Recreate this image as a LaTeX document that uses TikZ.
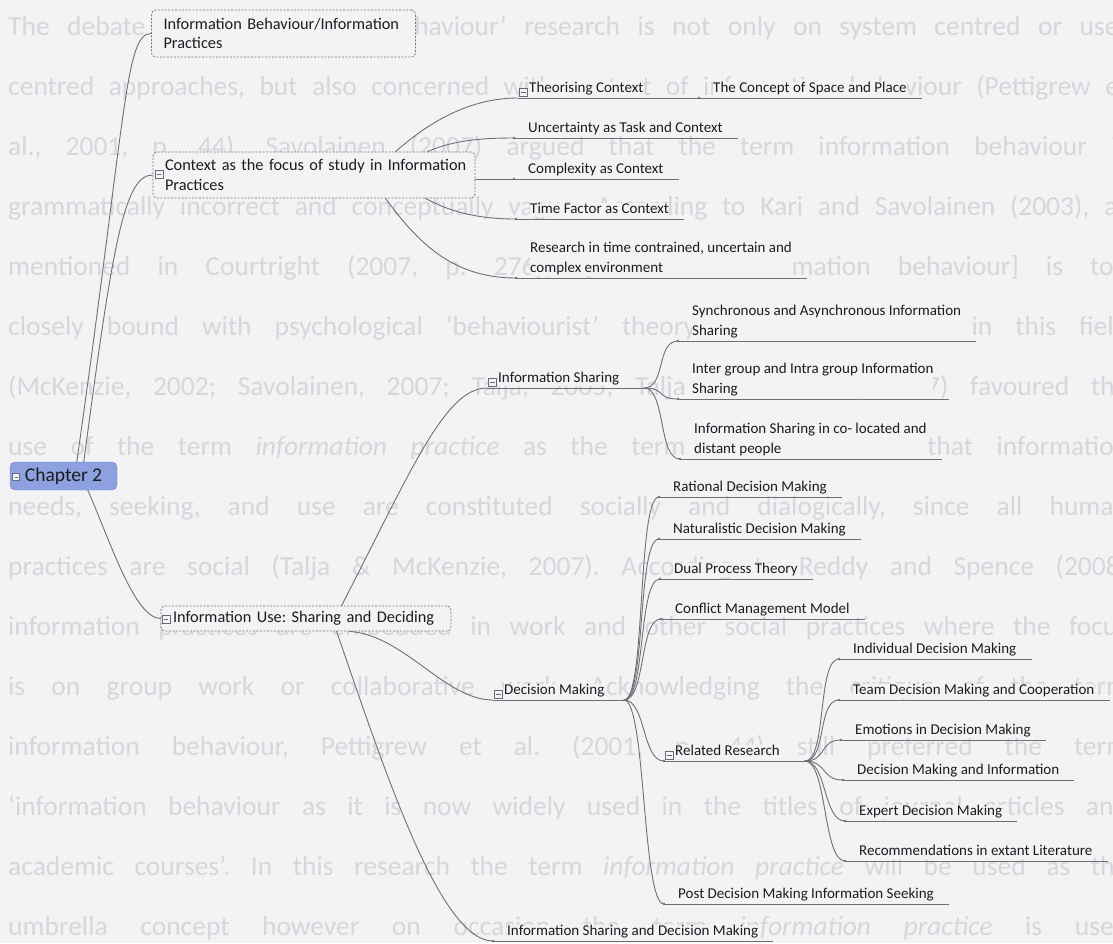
\documentclass[tikz,border=0pt]{standalone}
\usepackage{fontspec}
\setmainfont{Carlito}
\usetikzlibrary{calc}
\frenchspacing

\definecolor{pagebg}{RGB}{243,243,245}
\definecolor{ghostc}{RGB}{215,215,219}
\definecolor{inkc}{RGB}{28,28,32}
\definecolor{wirec}{RGB}{112,112,116}
\definecolor{framec}{RGB}{120,120,126}
\definecolor{rootfill}{RGB}{141,161,224}
\definecolor{rootedge}{RGB}{112,130,196}
\definecolor{iconc}{RGB}{105,105,115}

\newcommand\leaffont{\fontsize{15}{20}\selectfont}
\newcommand\boxfont{\fontsize{16.3}{19.5}\selectfont}
\newcommand\rootfont{\fontsize{19.5}{22}\selectfont}
\newcommand\ghostfont{\fontsize{27.5}{30}\selectfont}

\tikzset{
  ghost/.style={anchor=base west, inner sep=0pt, text=ghostc, font=\ghostfont},
  wire/.style={draw=wirec, line width=0.9pt, line cap=round},
  uline/.style={draw=wirec, line width=0.9pt},
  leaf/.style={anchor=south west, inner sep=0pt, fill=pagebg, text=inkc,
    font=\leaffont, align=left, text depth=3.5pt},
  topicbox/.style={draw=framec, dash pattern=on 2pt off 1.5pt, line width=0.8pt,
    rounded corners=4pt, fill=pagebg, text=inkc, font=\boxfont, align=left,
    inner xsep=12pt, inner ysep=0pt},
  rootbox/.style={draw=rootedge, fill=rootfill, rounded corners=5pt, text=inkc,
    font=\rootfont, minimum width=107pt, minimum height=28pt, inner sep=0pt},
  icon/.style={draw=iconc, fill=pagebg, line width=0.6pt, minimum size=8.5pt,
    inner sep=0pt,
    path picture={\draw[iconc, line width=0.7pt]
      ([xshift=2pt]path picture bounding box.west) --
      ([xshift=-2pt]path picture bounding box.east);}},
  knot/.style={fill=wirec},
}

% one justified line of the page text lying behind the map
\newcommand\ghostrow[3]{\node[ghost] (#1) at (8,#2) {\makebox[1120pt][s]{#3}};}

% leaf topic: label over an underline that starts at a small knot
\newcommand\leaf[3]{%
  \coordinate (#1-d) at (#2);
  \node[leaf] (#1) at ($(#1-d)+(14,-1.5)$) {#3};
  \draw[uline] (#1-d) -- ($(#1.south east)+(15,1.5)$);
  \fill[knot] (#1-d) circle[radius=1.3pt];
}

% topic with children: collapse icon, label, underline running on to the fork
\newcommand\branch[4]{%
  \coordinate (#1-d) at (#2);
  \coordinate (#1-f) at (#3);
  \node[leaf] (#1) at ($(#1-d)+(11,-1.5)$) {#4};
  \draw[uline] (#1-d) -- (#1-f);
  \node[icon] (#1-i) at ($(#1-d)+(5.5,-5.5)$) {};
}

% brace-like fan from a fork to a child's knot
\newcommand\fan[2]{\draw[wire] (#1) .. controls +(22,0) and +(-22,0) .. (#2);}

\begin{document}
\begin{tikzpicture}[x=1pt, y=-1pt]
\useasboundingbox (0,0) rectangle (1113,943);
\fill[pagebg] (0,0) rectangle (1113,943);

% ---- page text behind the map ----
\ghostrow{g0}{35}{The debate over ‘information behaviour’ research is not only on system centred or user}
\ghostrow{g1}{95}{centred approaches, but also concerned with context of information behaviour (Pettigrew et}
\ghostrow{g2}{155}{al., 2001, p. 44). Savolainen (2007) argued that the term information behaviour is}
\ghostrow{g3}{215}{grammatically incorrect and conceptually vague. According to Kari and Savolainen (2003), as}
\ghostrow{g4}{275}{mentioned in Courtright (2007, p. 276), ‘[the term information behaviour] is too}
\ghostrow{g5}{335}{closely bound with psychological ‘behaviourist’ theory’. Other researchers in this field}
\ghostrow{g6}{395}{(McKenzie, 2002; Savolainen, 2007; Talja, 2005; Talja \& McKenzie, 2007) favoured the}
\ghostrow{g7}{455}{use of the term \textit{information practice} as the term reflects a view that information}
\ghostrow{g8}{515}{needs, seeking, and use are constituted socially and dialogically, since all human}
\ghostrow{g9}{575}{practices are social (Talja \& McKenzie, 2007). According to Reddy and Spence (2008)}
\ghostrow{g10}{635}{information practices are embedded in work and other social practices where the focus}
\ghostrow{g11}{695}{is on group work or collaborative work. Acknowledging the critique of the term}
\ghostrow{g12}{755}{information behaviour, Pettigrew et al. (2001, p. 44) still preferred the term}
\ghostrow{g13}{815}{‘information behaviour as it is now widely used in the titles of journal articles and}
\ghostrow{g14}{875}{academic courses’. In this research the term \textit{information practice} will be used as the}
\ghostrow{g15}{935}{umbrella concept however on occasion the term \textit{information practice} is used}

% ---- root and main topics ----
\node[rootbox] (ch2) at (63.5,476) {Chapter 2\hspace{5pt}};
\node[icon, minimum size=7pt] (ch2-i) at (16,477) {};

\node[topicbox, text width=240pt, minimum height=47pt] (ib) at (283.5,33.5)
  {Information Behaviour/Information\\Practices};
\node[topicbox, text width=298pt, minimum height=46pt] (ctx) at (314,175)
  {\mbox{Context as the focus of study in Information}\\Practices};
\node[icon, minimum size=8pt] (ctx-i) at (159,174) {};
\node[topicbox, text width=266pt, minimum height=25pt] (use) at (306,618.5)
  {\mbox{Information Use: Sharing and Deciding}};
\node[icon, minimum size=8pt] (use-i) at (166,619) {};

% ---- context branch ----
\branch{thc}{518,98}{699,98}{Theorising Context}
\leaf{csp}{699,98}{The Concept of Space and Place}
\leaf{unc}{514,138}{Uncertainty as Task and Context}
\leaf{cpx}{514,179}{Complexity as Context}
\leaf{tfc}{516,219}{Time Factor as Context}
\leaf{rtc}{516,278}{Research in time contrained, uncertain and\\complex environment}

% ---- information sharing branch ----
\branch{ish}{487,388}{644,388}{Information Sharing}
\leaf{sync}{678,341}{Synchronous and Asynchronous Information\\Sharing}
\leaf{igrp}{678,399}{Inter group and Intra group Information\\Sharing}
\leaf{colo}{680,459}{Information Sharing in co- located and\\distant people}

% ---- decision making branch ----
\branch{dm}{493,700}{624,700}{Decision Making}
\leaf{rdm}{659,497}{Rational Decision Making}
\leaf{ndm}{659,539}{Naturalistic Decision Making}
\leaf{dpt}{660,579}{Dual Process Theory}
\leaf{cmm}{661,619}{Conflict Management Model}
\branch{rr}{664,761}{805,761}{Related Research}
\fill[knot] (rr-d) circle[radius=1.3pt];
\leaf{post}{664,904}{Post Decision Making Information Seeking}

\leaf{idm}{839,659}{Individual Decision Making}
\leaf{tdm}{839,700}{Team Decision Making and Cooperation}
\leaf{emo}{841,740}{Emotions in Decision Making}
\leaf{dmi}{843,780}{Decision Making and Information}
\leaf{edm}{845,821}{Expert Decision Making}
\leaf{rec}{845,861}{Recommendations in extant Literature}

\leaf{isdm}{493,941}{Information Sharing and Decision Making}

% ---- connectors from the root ----
\draw[wire] ($(ch2.north west)+(67,0)$) .. controls +(50,-352) and +(-26,0) .. (ib.west);
\draw[wire] ($(ch2.north west)+(74,0)$) .. controls +(29,-220) and +(-28,0) .. (ctx.west);
\draw[wire] ($(ch2.south west)+(78,0)$) .. controls +(22,50) and +(-26,0) .. (use.west);

% ---- connectors from the context topic ----
\draw[wire] ($(ctx.north west)+(243,0)$) .. controls +(34,-30) and +(-48,0) .. (thc-d);
\draw[wire] ($(ctx.north west)+(275,0)$) .. controls +(27,-12) and +(-29,0) .. (unc-d);
\draw[wire] ($(ctx.east)+(0,4)$) -- (cpx-d);
\draw[wire] ($(ctx.south west)+(273,0)$) .. controls +(29,16) and +(-31,0) .. (tfc-d);
\draw[wire] ($(ctx.south west)+(233,0)$) .. controls +(34,47) and +(-61,0) .. (rtc-d);

% ---- connectors from the information use topic ----
\draw[wire] ($(use.north west)+(181,0)$) .. controls +(70,-136) and +(-42,0) .. (ish-d);
\draw[wire] ($(use.south west)+(189,0)$) .. controls +(55,4) and +(-48,0) .. (dm-d);
\draw[wire] ($(use.south west)+(176,0)$) .. controls +(48,139) and +(-53,0) .. (isdm-d);

% ---- fans ----
\fan{ish-f}{sync-d}
\fan{ish-f}{igrp-d}
\fan{ish-f}{colo-d}

\fan{dm-f}{rdm-d}
\fan{dm-f}{ndm-d}
\fan{dm-f}{dpt-d}
\fan{dm-f}{cmm-d}
\fan{dm-f}{rr-d}
\fan{dm-f}{post-d}

\fan{rr-f}{idm-d}
\fan{rr-f}{tdm-d}
\fan{rr-f}{emo-d}
\fan{rr-f}{dmi-d}
\fan{rr-f}{edm-d}
\fan{rr-f}{rec-d}
\end{tikzpicture}
\end{document}
